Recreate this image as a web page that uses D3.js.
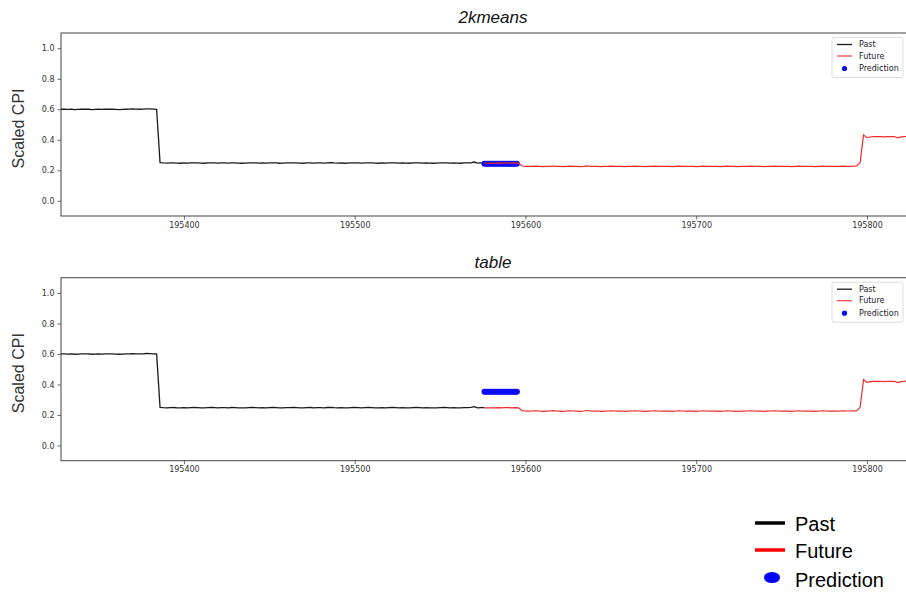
<!DOCTYPE html>
<html>
<head>
<meta charset="utf-8">
<script src="https://cdn.jsdelivr.net/npm/d3@7"></script>
<style>
  html, body { margin: 0; padding: 0; background: #fff; }
  svg { display: block; }
</style>
</head>
<body>
<svg id="chart" width="906" height="593"></svg>
<script>
// ---- data ----
const panelTitles = ["2kmeans", "table"];
const xTicks = [195400, 195500, 195600, 195700, 195800];
const yTicks = [0.0, 0.2, 0.4, 0.6, 0.8, 1.0];
const xDomain = [195328, 195834];
const yDomain = [-0.1, 1.1];

// observed series, sampled every 2 time steps
const pastStart = 195328;
const pastValues = [
  0.600,0.601,0.599,0.600,0.598,0.599,0.600,0.601,0.600,0.598,
  0.599,0.600,0.599,0.600,0.601,0.600,0.599,0.598,0.599,0.600,
  0.601,0.602,0.601,0.600,0.601,0.603,0.602,0.601,0.600,
  0.250,
  0.248,0.247,0.248,0.249,0.247,0.246,0.248,0.247,0.248,0.249,
  0.248,0.247,0.246,0.248,0.249,0.248,0.247,0.248,0.248,0.247,
  0.249,0.248,0.247,0.246,0.247,0.248,0.249,0.248,0.247,0.248,
  0.247,0.248,0.249,0.248,0.246,0.247,0.248,0.248,0.249,0.248,
  0.247,0.246,0.248,0.249,0.247,0.248,0.248,0.247,0.249,0.250,
  0.248,0.247,0.248,0.246,0.247,0.248,0.249,0.248,0.247,0.248,
  0.249,0.248,0.247,0.246,0.248,0.247,0.248,0.249,0.248,0.247,
  0.248,0.247,0.246,0.248,0.249,0.248,0.247,0.248,0.247,0.246,
  0.247,0.248,0.249,0.248,0.247,0.248,0.247,0.246,0.248,0.248,
  0.249,0.254,0.247,0.248,0.248
];

const futureStart = 195576;
const futureValues = [
  0.247,0.246,0.247,0.246,0.248,0.247,0.249,0.248,0.247,0.248,0.247,
  0.228,
  0.226,0.225,0.226,0.227,0.226,0.224,0.225,0.226,0.228,0.226,
  0.225,0.224,0.226,0.227,0.226,0.225,0.224,0.226,0.229,0.226,
  0.225,0.226,0.224,0.225,0.226,0.227,0.226,0.225,0.226,0.224,
  0.225,0.226,0.227,0.226,0.225,0.224,0.225,0.226,0.227,0.226,
  0.225,0.226,0.225,0.224,0.226,0.227,0.226,0.225,0.226,0.225,
  0.224,0.226,0.227,0.226,0.225,0.226,0.225,0.224,0.226,0.227,
  0.226,0.225,0.224,0.226,0.225,0.226,0.227,0.226,0.225,0.226,
  0.224,0.225,0.226,0.227,0.226,0.225,0.226,0.225,0.224,0.226,
  0.227,0.226,0.225,0.226,0.225,0.224,0.226,0.227,0.226,0.225,
  0.226,0.225,0.226,0.227,0.226,0.226,0.227,
  0.228,0.250,0.432,0.414,
  0.418,0.420,0.421,0.420,0.419,0.421,0.420,0.421,0.412,0.419,
  0.421,0.422,0.421,0.420,0.421,0.419,0.420
];
const seriesStep = 2;

// predicted values, one per time step
const predTimes = [
  195576,195577,195578,195579,195580,195581,195582,195583,195584,195585,
  195586,195587,195588,195589,195590,195591,195592,195593,195594,195595
];
const predKmeans = [
  0.242,0.242,0.242,0.242,0.242,0.242,0.242,0.242,0.242,0.242,
  0.242,0.242,0.242,0.242,0.242,0.242,0.242,0.242,0.242,0.242
];
const predTable = [
  0.352,0.352,0.352,0.352,0.352,0.352,0.352,0.352,0.352,0.352,
  0.352,0.352,0.352,0.352,0.352,0.352,0.352,0.352,0.352,0.352
];
const predictions = [predKmeans, predTable];

const legendLabels = ["Past", "Future", "Prediction"];

// ---- layout ----
const svg = d3.select("#chart");
const left = 61, right = 925, plotH = 183;
const panelTops = [33, 277.7];
const colPast = "#1a1a1a", colFuture = "#ee2a2a", colPred = "#0b0bf5";
const tickFont = "DejaVu Sans, sans-serif";
const labelFont = "Liberation Sans, Arial, sans-serif";

const x = d3.scaleLinear().domain(xDomain).range([left, right]);

const past = pastValues.map((v, i) => ({t: pastStart + i * seriesStep, v}));
const future = futureValues.map((v, i) => ({t: futureStart + i * seriesStep, v}));

const defs = svg.append("defs");

panelTops.forEach((top, p) => {
  const y = d3.scaleLinear().domain(yDomain).range([top + plotH, top]);
  const g = svg.append("g");
  const line = d3.line().x(d => x(d.t)).y(d => y(d.v));

  const clipId = "clip" + p;
  defs.append("clipPath").attr("id", clipId)
    .append("rect").attr("x", left).attr("y", top).attr("width", right - left).attr("height", plotH);

  const plot = g.append("g").attr("clip-path", `url(#${clipId})`);

  plot.append("path").datum(past).attr("d", line)
    .attr("fill", "none").attr("stroke", colPast).attr("stroke-width", 1.3);

  plot.selectAll("circle.pred").data(predTimes.map((t, i) => ({t, v: predictions[p][i]})))
    .join("circle").attr("class", "pred")
    .attr("cx", d => x(d.t)).attr("cy", d => y(d.v)).attr("r", 3)
    .attr("fill", colPred);

  plot.append("path").datum(future).attr("d", line)
    .attr("fill", "none").attr("stroke", colFuture).attr("stroke-width", 1.2);

  // frame
  g.append("rect").attr("x", left).attr("y", top).attr("width", right - left).attr("height", plotH)
    .attr("fill", "none").attr("stroke", "#444").attr("stroke-width", 1);

  // axes
  const xa = g.append("g").attr("transform", `translate(0,${top + plotH})`)
    .call(d3.axisBottom(x).tickValues(xTicks).tickFormat(d3.format("d")).tickSize(3.5).tickPadding(2.5));
  const ya = g.append("g").attr("transform", `translate(${left},0)`)
    .call(d3.axisLeft(y).tickValues(yTicks).tickFormat(d3.format(".1f")).tickSize(3.5).tickPadding(3));
  [xa, ya].forEach(a => {
    a.select(".domain").remove();
    a.selectAll(".tick line").attr("stroke", "#444").attr("stroke-width", 0.8);
    a.selectAll(".tick text").attr("fill", "#333").style("font-family", tickFont).style("font-size", "8px");
  });

  // title
  g.append("text").attr("x", (left + right) / 2).attr("y", top - 10)
    .attr("text-anchor", "middle").style("font-family", labelFont).style("font-style", "italic")
    .style("font-size", "17px").attr("fill", "#111").text(panelTitles[p]);

  // y label
  g.append("text").attr("transform", `translate(24,${top + plotH / 2 + 4}) rotate(-90)`)
    .attr("text-anchor", "middle").style("font-family", labelFont).style("font-size", "16px")
    .attr("fill", "#333").text("Scaled CPI");

  // inner legend
  const lg = g.append("g").attr("transform", `translate(832,${top + 4.5})`);
  lg.append("rect").attr("x", 0).attr("y", 0).attr("width", 71).attr("height", 40).attr("rx", 2)
    .attr("fill", "#fff").attr("fill-opacity", 0.85).attr("stroke", "#d4d4d4").attr("stroke-width", 0.8);
  const rows = [7, 18.5, 31];
  lg.append("line").attr("x1", 5).attr("x2", 20).attr("y1", rows[0]).attr("y2", rows[0])
    .attr("stroke", colPast).attr("stroke-width", 1.3);
  lg.append("line").attr("x1", 5).attr("x2", 20).attr("y1", rows[1]).attr("y2", rows[1])
    .attr("stroke", "#ff4a4a").attr("stroke-width", 1.3);
  lg.append("circle").attr("cx", 12.5).attr("cy", rows[2]).attr("r", 2.6).attr("fill", colPred);
  legendLabels.forEach((t, i) => {
    lg.append("text").attr("x", 27).attr("y", rows[i]).attr("dy", "0.35em")
      .style("font-family", tickFont).style("font-size", "8px").attr("fill", "#222").text(t);
  });
});

// outer legend
const big = svg.append("g");
big.append("line").attr("x1", 755).attr("x2", 785).attr("y1", 523).attr("y2", 523)
  .attr("stroke", "#000").attr("stroke-width", 3.5);
big.append("line").attr("x1", 755).attr("x2", 785).attr("y1", 550).attr("y2", 550)
  .attr("stroke", "#ff0000").attr("stroke-width", 3.5);
big.append("ellipse").attr("cx", 772).attr("cy", 577.5).attr("rx", 8).attr("ry", 5.5).attr("fill", "#0000ff");
[530.5, 558, 587].forEach((yy, i) => {
  big.append("text").attr("x", 795).attr("y", yy)
    .style("font-family", labelFont).style("font-size", "20px").attr("fill", "#000").text(legendLabels[i]);
});
</script>
</body>
</html>
